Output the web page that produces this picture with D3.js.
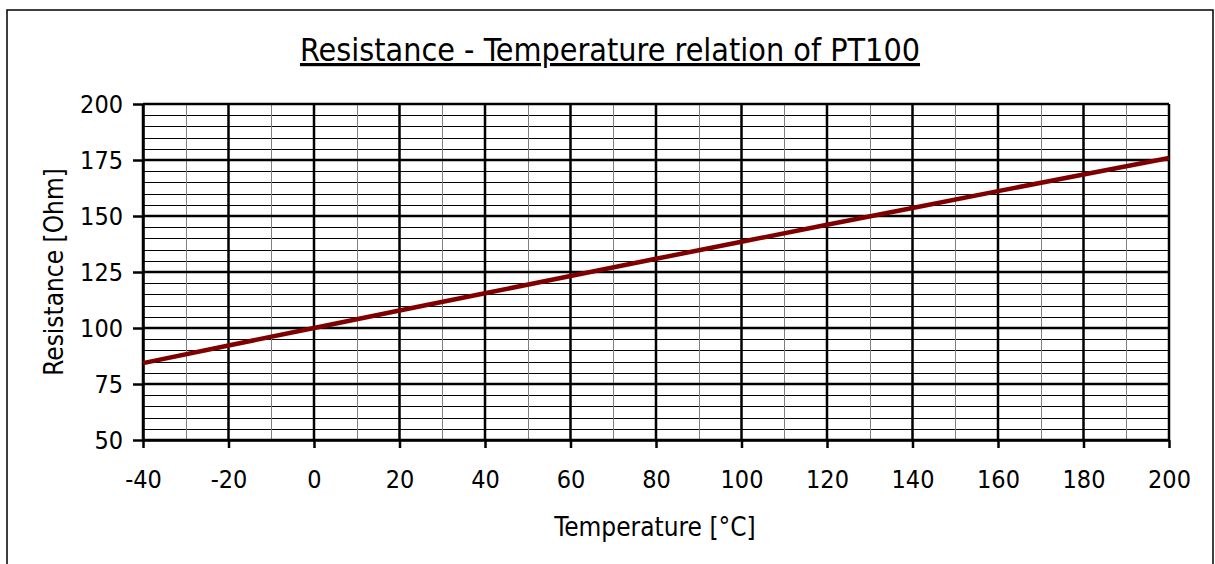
<!DOCTYPE html>
<html>
<head>
<meta charset="utf-8">
<script src="https://cdn.jsdelivr.net/npm/d3@7"></script>
<style>
  body { margin: 0; background: #fff; }
  text { font-family: "DejaVu Sans Condensed", "DejaVu Sans", sans-serif; fill: #000; }
</style>
</head>
<body>
<div id="chart"></div>
<script>
// PT100 resistance every 20 °C
const temps = [-40, -20, 0, 20, 40, 60, 80, 100, 120, 140, 160, 180, 200];
const resistance = [84.3, 92.2, 100, 107.8, 115.5, 123.2, 130.9, 138.5, 146.1, 153.6, 161.1, 168.5, 175.9];
const xTicks = [-40, -20, 0, 20, 40, 60, 80, 100, 120, 140, 160, 180, 200];
const yTicks = [50, 75, 100, 125, 150, 175, 200];

const width = 1215, height = 564;
const margin = {top: 104, right: 46, bottom: 124, left: 143};
const w = width - margin.left - margin.right;
const h = height - margin.top - margin.bottom;
const font = '"DejaVu Sans Condensed", "DejaVu Sans", sans-serif';

const svg = d3.select('#chart').append('svg')
  .attr('width', width)
  .attr('height', height);

// outer frame
svg.append('rect')
  .attr('x', 7).attr('y', 10)
  .attr('width', 1206).attr('height', 600)
  .attr('fill', 'none')
  .attr('stroke', '#000')
  .attr('stroke-width', 1.5);

const x = d3.scaleLinear().domain([-40, 200]).range([0, w]);
const y = d3.scaleLinear().domain([50, 200]).range([h, 0]);

const g = svg.append('g')
  .attr('transform', 'translate(' + margin.left + ',' + margin.top + ')');

// minor grid
g.append('g').selectAll('line')
  .data(d3.range(50, 201, 5).filter(v => v % 25 !== 0))
  .join('line')
  .attr('x1', 0).attr('x2', w)
  .attr('y1', d => Math.round(y(d)) + 0.5).attr('y2', d => Math.round(y(d)) + 0.5)
  .attr('stroke', '#000').attr('stroke-width', 1);

g.append('g').selectAll('line')
  .data(d3.range(-30, 200, 20))
  .join('line')
  .attr('x1', d => Math.round(x(d)) + 0.5).attr('x2', d => Math.round(x(d)) + 0.5)
  .attr('y1', 0).attr('y2', h)
  .attr('stroke', '#808080').attr('stroke-width', 1);

// major grid
g.append('g').selectAll('line')
  .data(yTicks)
  .join('line')
  .attr('x1', 0).attr('x2', w)
  .attr('y1', d => y(d)).attr('y2', d => y(d))
  .attr('stroke', '#000').attr('stroke-width', 2.5);

g.append('g').selectAll('line')
  .data(xTicks)
  .join('line')
  .attr('x1', d => x(d)).attr('x2', d => x(d))
  .attr('y1', 0).attr('y2', h)
  .attr('stroke', '#000').attr('stroke-width', 2.5);

// axes
const xAxis = g.append('g')
  .attr('transform', 'translate(0,' + h + ')')
  .call(d3.axisBottom(x).tickValues(xTicks).tickFormat(d => String(d))
    .tickSize(8).tickPadding(22).tickSizeOuter(0));
const yAxis = g.append('g')
  .call(d3.axisLeft(y).tickValues(yTicks).tickFormat(d => String(d))
    .tickSize(10).tickPadding(10).tickSizeOuter(0));

[xAxis, yAxis].forEach(a => {
  a.select('.domain').attr('stroke', '#000').attr('stroke-width', 2.5);
  a.selectAll('.tick line').attr('stroke', '#000').attr('stroke-width', 2.5);
  a.selectAll('.tick text')
    .style('font-family', font)
    .style('font-size', '25px')
    .attr('fill', '#000');
});

// the curve
const line = d3.line()
  .x((d, i) => x(temps[i]))
  .y(d => y(d));

g.append('path')
  .datum(resistance)
  .attr('fill', 'none')
  .attr('stroke', '#800000')
  .attr('stroke-width', 4.5)
  .attr('d', line);

// titles
svg.append('text')
  .attr('x', 610).attr('y', 61)
  .attr('text-anchor', 'middle')
  .style('font-size', '32px')
  .style('text-decoration', 'underline')
  .text('Resistance - Temperature relation of PT100');

svg.append('text')
  .attr('x', 655).attr('y', 536)
  .attr('text-anchor', 'middle')
  .style('font-size', '26px')
  .text('Temperature [°C]');

svg.append('text')
  .attr('transform', 'translate(63,272) rotate(-90)')
  .attr('text-anchor', 'middle')
  .style('font-size', '26px')
  .text('Resistance [Ohm]');
</script>
</body>
</html>
